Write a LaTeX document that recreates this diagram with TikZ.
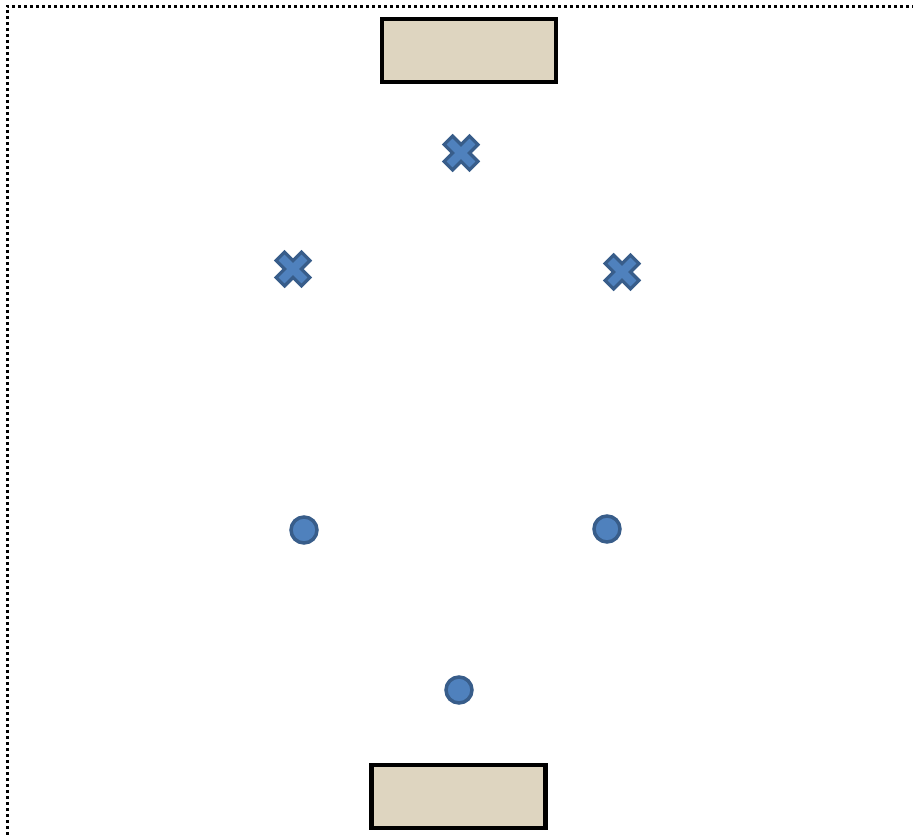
\documentclass[tikz,border=0pt]{standalone}
\usetikzlibrary{calc}
\definecolor{markfill}{RGB}{79,129,189}
\definecolor{markedge}{RGB}{56,93,138}
\definecolor{sand}{RGB}{222,213,192}
\tikzset{
  padbox/.style={draw=black, line width=4.5pt, fill=sand, minimum width=174pt, minimum height=63pt, inner sep=0pt},
  dotline/.style={line width=3pt, dash pattern=on 3pt off 3pt},
  dotmark/.style={circle, draw=markedge, line width=3.5pt, fill=markfill, minimum size=26pt, inner sep=0pt},
  crossanchor/.style={minimum size=34pt, inner sep=0pt},
  crossmark/.style={draw=markedge, line width=3.2pt, fill=markfill, line join=miter},
}
\newcommand{\xmark}[1]{%
  \draw[crossmark, shift={(#1)}, rotate=45]
    (-6,18) -- (6,18) -- (6,6) -- (18,6) -- (18,-6) -- (6,-6) -- (6,-18) -- (-6,-18) -- (-6,-6) -- (-18,-6) -- (-18,6) -- (-6,6) -- cycle;}
\begin{document}
\begin{tikzpicture}[x=1pt, y=-1pt]
\useasboundingbox (0,0) rectangle (913,835);
\coordinate (tl) at (7,6);
\coordinate (tr) at (913,6);
\coordinate (bl) at (7,835);
\draw[dotline] (bl) -- (tl) -- (tr);

\node[padbox] (top) at (469,50.5) {};
\node[padbox] (bottom) at (458.5,796.5) {};

\node[crossanchor] (x1) at (461,153) {};
\node[crossanchor] (x2) at (293,269) {};
\node[crossanchor] (x3) at (622,272) {};
\xmark{x1}
\xmark{x2}
\xmark{x3}

\node[dotmark] (o1) at (304,530) {};
\node[dotmark] (o2) at (607,529) {};
\node[dotmark] (o3) at (459,690) {};
\end{tikzpicture}
\end{document}
